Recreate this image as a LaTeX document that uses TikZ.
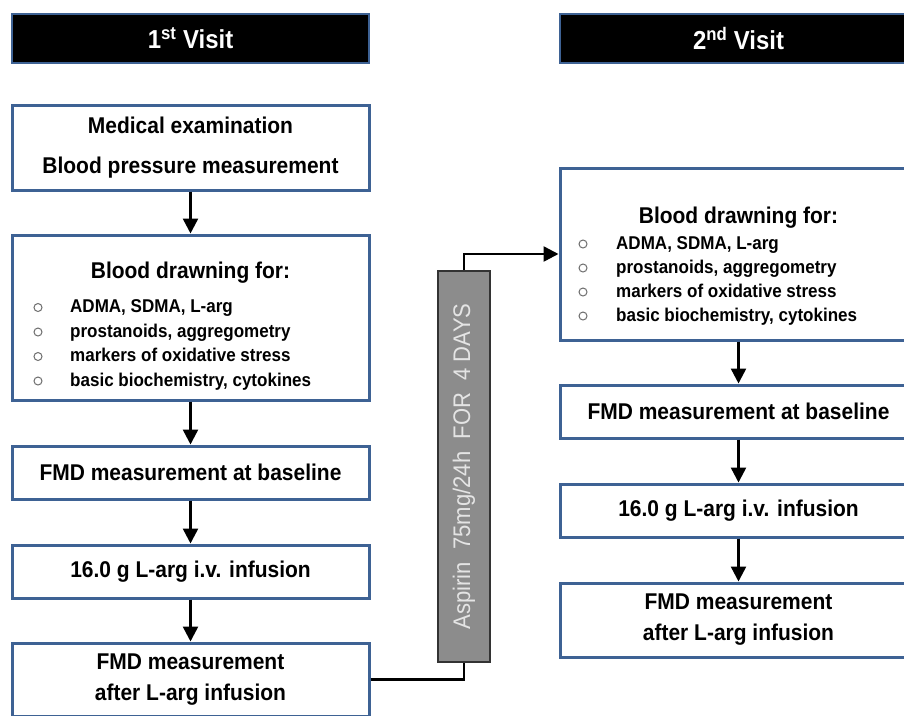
\documentclass[tikz,border=0pt]{standalone}
\usepackage{fontspec}
\setmainfont{Liberation Sans}[FakeStretch=0.92]
\usetikzlibrary{arrows.meta}

\definecolor{boxblue}{RGB}{62,98,148}
\definecolor{bargray}{RGB}{140,140,140}
\definecolor{bartext}{RGB}{228,228,228}
\definecolor{dotgray}{RGB}{110,110,110}

\tikzset{
  visit/.style={draw=boxblue, line width=2.5pt, fill=black, text=white,
    minimum width=357pt, minimum height=49pt,
    font=\fontsize{26}{30}\selectfont\bfseries},
  stepbox/.style={draw=boxblue, line width=3pt, fill=white,
    minimum width=357pt, align=center,
    font=\fontsize{22.8}{26}\selectfont\bfseries},
  listhead/.style={font=\fontsize{22.8}{26}\selectfont\bfseries},
  listitem/.style={anchor=west, inner sep=0pt, text height=13pt, text depth=3pt,
    font=\fontsize{18.5}{21}\selectfont\bfseries},
  bulletdot/.style={draw=dotgray, line width=1pt},
  flow/.style={line width=2.5pt, -{Triangle[width=15pt,length=15pt]}},
  joinline/.style={line width=2.5pt},
  aspbar/.style={draw=black!80, line width=2pt, fill=bargray, text=bartext,
    minimum width=391pt, minimum height=52pt,
    font=\fontsize{24}{28}\selectfont}
}

\begin{document}
\begin{tikzpicture}[x=1pt,y=-1pt]
  \clip (0,0) rectangle (904,715);

  % 1st visit
  \node[visit] (v1) at (190.5,38.5) {1\textsuperscript{st} Visit};
  \node[stepbox, minimum height=85pt] (b1) at (190.5,147.5)
    {Medical examination\\[14pt]Blood pressure measurement};
  \node[stepbox, minimum height=165pt] (b2) at (190.5,317.5) {};
  \node[listhead] (b2t) at (190.5,273) {Blood drawning for:};
  \foreach \txt [count=\i] in {{ADMA, SDMA, L-arg}, {prostanoids, aggregometry},
      {markers of oxidative stress}, {basic biochemistry, cytokines}} {
    \draw[bulletdot] (38,283+24.5*\i) circle (4pt);
    \node[listitem] (bl\i) at (70,283+24.5*\i) {\txt};
  }
  \node[stepbox, minimum height=53pt] (b3) at (190.5,472.5) {FMD measurement at baseline};
  \node[stepbox, minimum height=53pt] (b4) at (190.5,571.5) {16.0 g L-arg i.v. infusion};
  \node[stepbox, minimum height=73pt] (b5) at (190.5,679.5)
    {FMD measurement\\[5pt]after L-arg infusion};

  \foreach \a/\b in {b1/b2, b2/b3, b3/b4, b4/b5}
    \draw[flow] (\a) -- (\b);

  % aspirin
  \node[aspbar, rotate=90] (asp) at (464,466.5) {Aspirin~~75mg/24h~~FOR~~4~DAYS};

  % 2nd visit
  \node[visit] (v2) at (738.5,38.5) {2\textsuperscript{nd} Visit};
  \node[stepbox, minimum height=172pt] (r1) at (738.5,254) {};
  \node[listhead] (r1t) at (738.5,218) {Blood drawning for:};
  \foreach \txt [count=\i] in {{ADMA, SDMA, L-arg}, {prostanoids, aggregometry},
      {markers of oxidative stress}, {basic biochemistry, cytokines}} {
    \draw[bulletdot] (583,220+24*\i) circle (4pt);
    \node[listitem] (rl\i) at (616,220+24*\i) {\txt};
  }
  \node[stepbox, minimum height=53pt] (r2) at (738.5,411.5) {FMD measurement at baseline};
  \node[stepbox, minimum height=53pt] (r3) at (738.5,510.5) {16.0 g L-arg i.v. infusion};
  \node[stepbox, minimum height=74pt] (r4) at (738.5,620)
    {FMD measurement\\[5pt]after L-arg infusion};

  \foreach \a/\b in {r1/r2, r2/r3, r3/r4}
    \draw[flow] (\a) -- (\b);

  \draw[joinline] (b5.east) -| (asp.west);
  \draw[flow] (asp.east) |- (r1.west);
\end{tikzpicture}
\end{document}
